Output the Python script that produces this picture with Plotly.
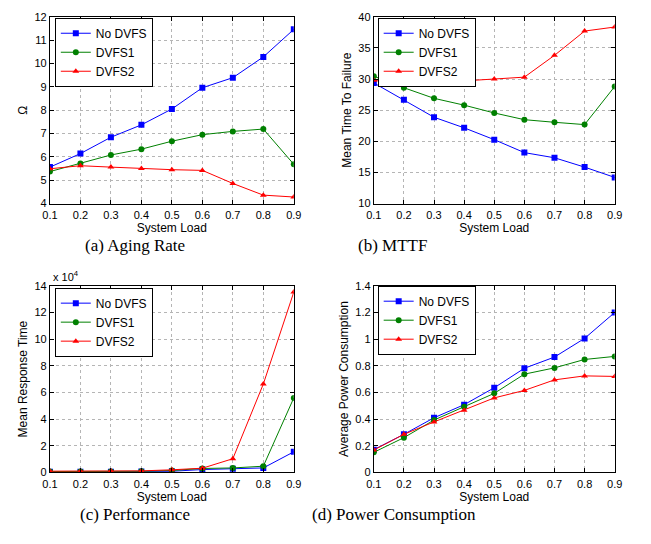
import plotly.graph_objects as go

load = [0.1, 0.2, 0.3, 0.4, 0.5, 0.6, 0.7, 0.8, 0.9]
series_names = ["No DVFS", "DVFS1", "DVFS2"]

aging_nodvfs = [5.56, 6.14, 6.84, 7.37, 8.05, 8.96, 9.39, 10.28, 11.46]
aging_dvfs1 = [5.37, 5.71, 6.08, 6.33, 6.67, 6.95, 7.09, 7.19, 5.68]
aging_dvfs2 = [5.49, 5.62, 5.56, 5.50, 5.45, 5.42, 4.86, 4.36, 4.28]

mttf_nodvfs = [29.37, 26.68, 23.86, 22.16, 20.26, 18.18, 17.35, 15.85, 14.2]
mttf_dvfs1 = [30.45, 28.6, 26.9, 25.8, 24.55, 23.47, 23.05, 22.68, 28.8]
mttf_dvfs2 = [29.8, 29.1, 29.4, 29.7, 30.0, 30.3, 33.8, 37.7, 38.35]

resp_nodvfs = [500, 550, 600, 700, 900, 2200, 2700, 3400, 15500]
resp_dvfs1 = [700, 750, 800, 900, 1500, 3000, 3400, 4700, 55900]
resp_dvfs2 = [1000, 1000, 1050, 1200, 2000, 3200, 10300, 66300, 135200]

power_nodvfs = [0.171, 0.286, 0.41, 0.508, 0.635, 0.781, 0.865, 1.005, 1.199]
power_dvfs1 = [0.151, 0.261, 0.393, 0.493, 0.593, 0.737, 0.784, 0.847, 0.87]
power_dvfs2 = [0.168, 0.286, 0.379, 0.466, 0.559, 0.615, 0.694, 0.724, 0.72]

resp_ticks = [0, 20000, 40000, 60000, 80000, 100000, 120000, 140000]
resp_ticktext = ["0", "2", "4", "6", "8", "10", "12", "14"]

captions = ["(a) Aging Rate", "(b) MTTF", "(c) Performance", "(d) Power Consumption"]
ytitles = ["\u03a9", "Mean Time To Failure", "Mean Response Time", "Average Power Consumption"]

colors = ["#0000ff", "#008000", "#ff0000"]
symbols = ["square", "circle", "triangle-up"]

panels = [
    [aging_nodvfs, aging_dvfs1, aging_dvfs2],
    [mttf_nodvfs, mttf_dvfs1, mttf_dvfs2],
    [resp_nodvfs, resp_dvfs1, resp_dvfs2],
    [power_nodvfs, power_dvfs1, power_dvfs2],
]

W, H = 651, 544
fig = go.Figure()

for p, data in enumerate(panels):
    sfx = "" if p == 0 else str(p + 1)
    for s, vals in enumerate(data):
        fig.add_trace(go.Scatter(
            x=load, y=vals, mode="lines+markers", name=series_names[s],
            line=dict(color=colors[s], width=1),
            marker=dict(symbol=symbols[s], size=6, color=colors[s]),
            xaxis="x" + sfx, yaxis="y" + sfx,
            legend="legend" + sfx, showlegend=True,
        ))

xdom_l = [43 / W, 293 / W]
xdom_r = [375 / W, 622 / W]
ydom_t = [1 - 202 / H, 1 - 11 / H]
ydom_b = [1 - 477 / H, 1 - 286 / H]
doms = [(xdom_l, ydom_t), (xdom_r, ydom_t), (xdom_l, ydom_b), (xdom_r, ydom_b)]
yranges = [[4, 12], [10, 40], [0, 140000], [0, 1.4]]
ydticks = [1, 5, 20000, 0.2]

font = "Liberation Sans, Arial, sans-serif"
axis_common = dict(
    showline=True, linecolor="black", linewidth=1, mirror="ticks",
    ticks="inside", ticklen=4, tickcolor="black",
    showgrid=True, gridcolor="#b5b5b5", griddash="dot", gridwidth=1,
    zeroline=False, tickfont=dict(family=font, size=11, color="black"),
)

layout = dict(
    width=W, height=H, margin=dict(l=0, r=0, t=0, b=0),
    paper_bgcolor="white", plot_bgcolor="white",
    font=dict(family=font, size=12, color="black"),
)
legend_pos = [(48 / W, 1 - 12 / H), (379 / W, 1 - 12 / H), (48 / W, 1 - 288 / H), (379 / W, 1 - 286 / H)]
for p in range(4):
    sfx = "" if p == 0 else str(p + 1)
    xd, yd = doms[p]
    layout["xaxis" + sfx] = dict(
        axis_common, domain=xd, anchor="y" + sfx, range=[0.1, 0.9], dtick=0.1, tick0=0.1,
        ticklabelstandoff=1,
        title=dict(text="System Load", font=dict(size=12), standoff=0),
    )
    ya = dict(
        axis_common, domain=yd, anchor="x" + sfx, range=yranges[p],
        title=dict(text=ytitles[p], font=dict(size=12), standoff=4),
    )
    if p == 2:
        ya.update(tickvals=resp_ticks, ticktext=resp_ticktext)
    else:
        ya.update(dtick=ydticks[p])
    layout["yaxis" + sfx] = ya
    lx, ly = legend_pos[p]
    layout["legend" + sfx] = dict(
        x=lx, y=ly, xanchor="left", yanchor="top", xref="paper", yref="paper",
        bgcolor="white", bordercolor="black", borderwidth=1,
        font=dict(family=font, size=12, color="black"),
        itemwidth=30, tracegroupgap=0,
    )

fig.update_layout(**layout)

cap_pos = [(130 / W, 1 - 245 / H), (394 / W, 1 - 245 / H), (130 / W, 1 - 520 / H), (396 / W, 1 - 520 / H)]
for p in range(4):
    fig.add_annotation(
        text=captions[p], x=cap_pos[p][0], y=cap_pos[p][1], xref="paper", yref="paper",
        showarrow=False, xanchor="center", yanchor="middle",
        font=dict(family="Liberation Serif, Times New Roman, serif", size=17, color="black"),
    )

fig.add_annotation(
    text="x 10<sup>4</sup>", x=44 / W, y=1 - 285 / H, xref="paper", yref="paper",
    showarrow=False, xanchor="left", yanchor="bottom",
    font=dict(family=font, size=11, color="black"),
)

fig.write_html("out.html", config={"displayModeBar": False},
               post_script="document.body.style.margin='0';")
